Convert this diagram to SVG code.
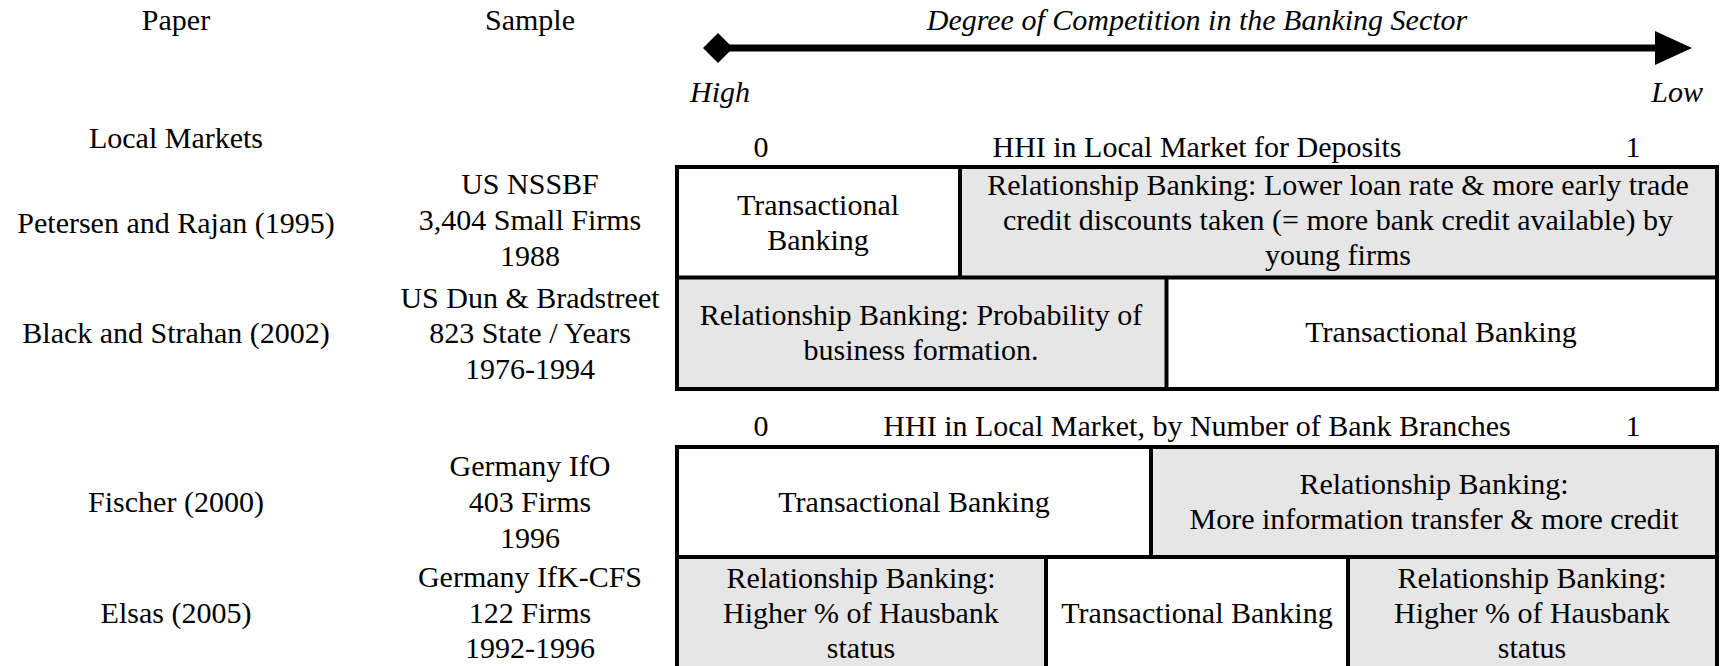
<svg xmlns="http://www.w3.org/2000/svg" width="1724" height="666" viewBox="0 0 1724 666">
<style>
text{font-family:"Liberation Serif","Times New Roman",serif;font-size:30px;fill:#000}
.c{text-anchor:middle}
.i{font-style:italic}
.g{fill:#e6e6e6;stroke:none}
.w{fill:#fff;stroke:none}
.ln{stroke:#000;stroke-width:4;fill:none}
</style>
<rect width="1724" height="666" fill="#fff"/>
<g id="headers">
<text class="c" x="176" y="30">Paper</text>
<text class="c" x="530" y="30">Sample</text>
<text class="c i" x="1197" y="30">Degree of Competition in the Banking Sector</text>
<text class="i" x="690" y="102">High</text>
<text class="i" x="1703" y="102" text-anchor="end">Low</text>
<text class="c" x="176" y="148">Local Markets</text>
</g>
<g id="connectors">
<line x1="716" y1="48" x2="1662" y2="48" stroke="#000" stroke-width="7"/>
<polygon points="703,48 718,33 733,48 718,63" fill="#000"/>
<polygon points="1655,31 1692,48 1655,65" fill="#000"/>
</g>
<g id="scale1">
<text class="c" x="761" y="157">0</text>
<text class="c" x="1197" y="157">HHI in Local Market for Deposits</text>
<text class="c" x="1633" y="157">1</text>
</g>
<g id="row-petersen">
<text class="c" x="176" y="233">Petersen and Rajan (1995)</text>
<text class="c" x="530" y="194">US NSSBF</text>
<text class="c" x="530" y="230">3,404 Small Firms</text>
<text class="c" x="530" y="266">1988</text>
</g>
<g id="cell-r1-trans">
<rect class="w" x="677" y="167" width="283" height="110"/>
<text class="c" x="818" y="215">Transactional</text>
<text class="c" x="818" y="250">Banking</text>
</g>
<g id="cell-r1-rel">
<rect class="g" x="960" y="167" width="757" height="110"/>
<text class="c" x="1338" y="195">Relationship Banking: Lower loan rate &amp; more early trade</text>
<text class="c" x="1338" y="230">credit discounts taken (= more bank credit available) by</text>
<text class="c" x="1338" y="265">young firms</text>
</g>
<g id="row-black">
<text class="c" x="176" y="343">Black and Strahan (2002)</text>
<text class="c" x="530" y="308">US Dun &amp; Bradstreet</text>
<text class="c" x="530" y="343">823 State / Years</text>
<text class="c" x="530" y="379">1976-1994</text>
</g>
<g id="cell-r2-rel">
<rect class="g" x="677" y="277" width="490" height="112"/>
<text class="c" x="921" y="325">Relationship Banking: Probability of</text>
<text class="c" x="921" y="360">business formation.</text>
</g>
<g id="cell-r2-trans">
<rect class="w" x="1167" y="277" width="550" height="112"/>
<text class="c" x="1441" y="342">Transactional Banking</text>
</g>
<g id="frame1">
<rect class="ln" x="677" y="167" width="1040" height="222"/>
<line class="ln" x1="677" y1="277.5" x2="1717" y2="277.5"/>
<line class="ln" x1="960" y1="167" x2="960" y2="279"/>
<line class="ln" x1="1166.5" y1="277" x2="1166.5" y2="389"/>
</g>
<g id="scale2">
<text class="c" x="761" y="436">0</text>
<text class="c" x="1197" y="436">HHI in Local Market, by Number of Bank Branches</text>
<text class="c" x="1633" y="436">1</text>
</g>
<g id="row-fischer">
<text class="c" x="176" y="512">Fischer (2000)</text>
<text class="c" x="530" y="476">Germany IfO</text>
<text class="c" x="530" y="512">403 Firms</text>
<text class="c" x="530" y="548">1996</text>
</g>
<g id="cell-r3-trans">
<rect class="w" x="677" y="447" width="474" height="110"/>
<text class="c" x="914" y="512">Transactional Banking</text>
</g>
<g id="cell-r3-rel">
<rect class="g" x="1151" y="447" width="566" height="110"/>
<text class="c" x="1434" y="494">Relationship Banking:</text>
<text class="c" x="1434" y="529">More information transfer &amp; more credit</text>
</g>
<g id="row-elsas">
<text class="c" x="176" y="623">Elsas (2005)</text>
<text class="c" x="530" y="587">Germany IfK-CFS</text>
<text class="c" x="530" y="623">122 Firms</text>
<text class="c" x="530" y="658">1992-1996</text>
</g>
<g id="cell-r4-rel-left">
<rect class="g" x="677" y="557" width="369" height="115"/>
<text class="c" x="861" y="588">Relationship Banking:</text>
<text class="c" x="861" y="623">Higher % of Hausbank</text>
<text class="c" x="861" y="658">status</text>
</g>
<g id="cell-r4-trans">
<rect class="w" x="1046" y="557" width="302" height="115"/>
<text class="c" x="1197" y="623">Transactional Banking</text>
</g>
<g id="cell-r4-rel-right">
<rect class="g" x="1348" y="557" width="369" height="115"/>
<text class="c" x="1532" y="588">Relationship Banking:</text>
<text class="c" x="1532" y="623">Higher % of Hausbank</text>
<text class="c" x="1532" y="658">status</text>
</g>
<g id="frame2">
<path class="ln" d="M677,672 V447 H1717 V672"/>
<line class="ln" x1="677" y1="557" x2="1717" y2="557"/>
<line class="ln" x1="1151" y1="447" x2="1151" y2="559"/>
<line class="ln" x1="1046" y1="557" x2="1046" y2="672"/>
<line class="ln" x1="1348" y1="557" x2="1348" y2="672"/>
</g>
</svg>
